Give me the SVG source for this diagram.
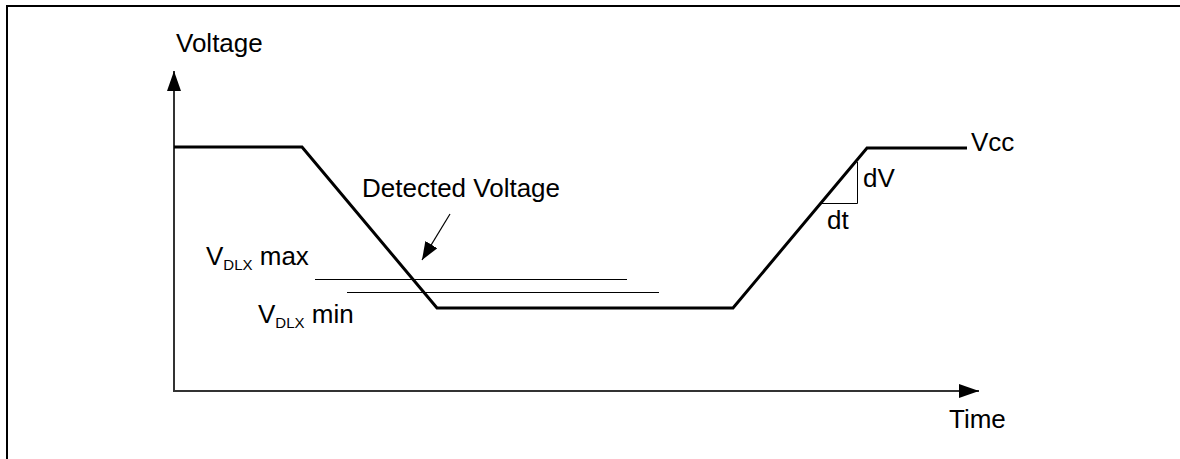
<svg xmlns="http://www.w3.org/2000/svg" width="1180" height="459" viewBox="0 0 1180 459">
<defs>
<style>
.t{font-family:"Liberation Sans",Arial,sans-serif;font-size:26px;fill:#000}
.s{font-size:15px}
.axis{stroke:#333;stroke-width:2;fill:none}
.curve{stroke:#000;stroke-width:3;fill:none;stroke-linejoin:miter}
.thin{stroke:#000;stroke-width:1;fill:none}
</style>
<marker id="ah" viewBox="0 0 20 14" refX="20" refY="7" markerWidth="20" markerHeight="14" markerUnits="userSpaceOnUse" orient="auto"><path d="M0,0 L20,7 L0,14 Z" fill="#000"/></marker>
<marker id="ah2" viewBox="0 0 18 14" refX="18" refY="7" markerWidth="18" markerHeight="14" markerUnits="userSpaceOnUse" orient="auto"><path d="M0,0 L18,7 L0,14 Z" fill="#000"/></marker>
</defs>
<rect width="1180" height="459" fill="#fff"/>
<path d="M7,459 V6 H1180" stroke="#000" stroke-width="2" fill="none"/>
<g id="connectors">
<path id="y-axis" class="axis" d="M174,391 V71" marker-end="url(#ah)"/>
<path id="x-axis" class="axis" d="M173,391 H979" marker-end="url(#ah)"/>
<path id="voltage-curve" class="curve" d="M174,147 H302 L437,308 H733 L867,148 H967"/>
<line id="vdlx-max-line" class="thin" x1="315" y1="279.5" x2="627" y2="279.5"/>
<line id="vdlx-min-line" class="thin" x1="347" y1="292.5" x2="659" y2="292.5"/>
<path id="slope-triangle" class="thin" d="M857.5,162 V203.5 H822"/>
<line id="detected-arrow" x1="450" y1="214" x2="422" y2="260" stroke="#000" stroke-width="1.2" marker-end="url(#ah2)"/>
</g>
<g id="label-voltage"><text class="t" x="176" y="52">Voltage</text></g>
<g id="label-time"><text class="t" x="949" y="428">Time</text></g>
<g id="label-vcc"><text class="t" x="971" y="151">Vcc</text></g>
<g id="label-detected"><text class="t" x="362" y="197">Detected Voltage</text></g>
<g id="label-dv"><text class="t" x="863" y="187">dV</text></g>
<g id="label-dt"><text class="t" x="827" y="229">dt</text></g>
<g id="label-vdlx-max"><text class="t" x="206" y="265">V<tspan class="s" dy="5">DLX</tspan><tspan dy="-5"> max</tspan></text></g>
<g id="label-vdlx-min"><text class="t" x="258" y="323">V<tspan class="s" dy="5">DLX</tspan><tspan dy="-5"> min</tspan></text></g>
</svg>
